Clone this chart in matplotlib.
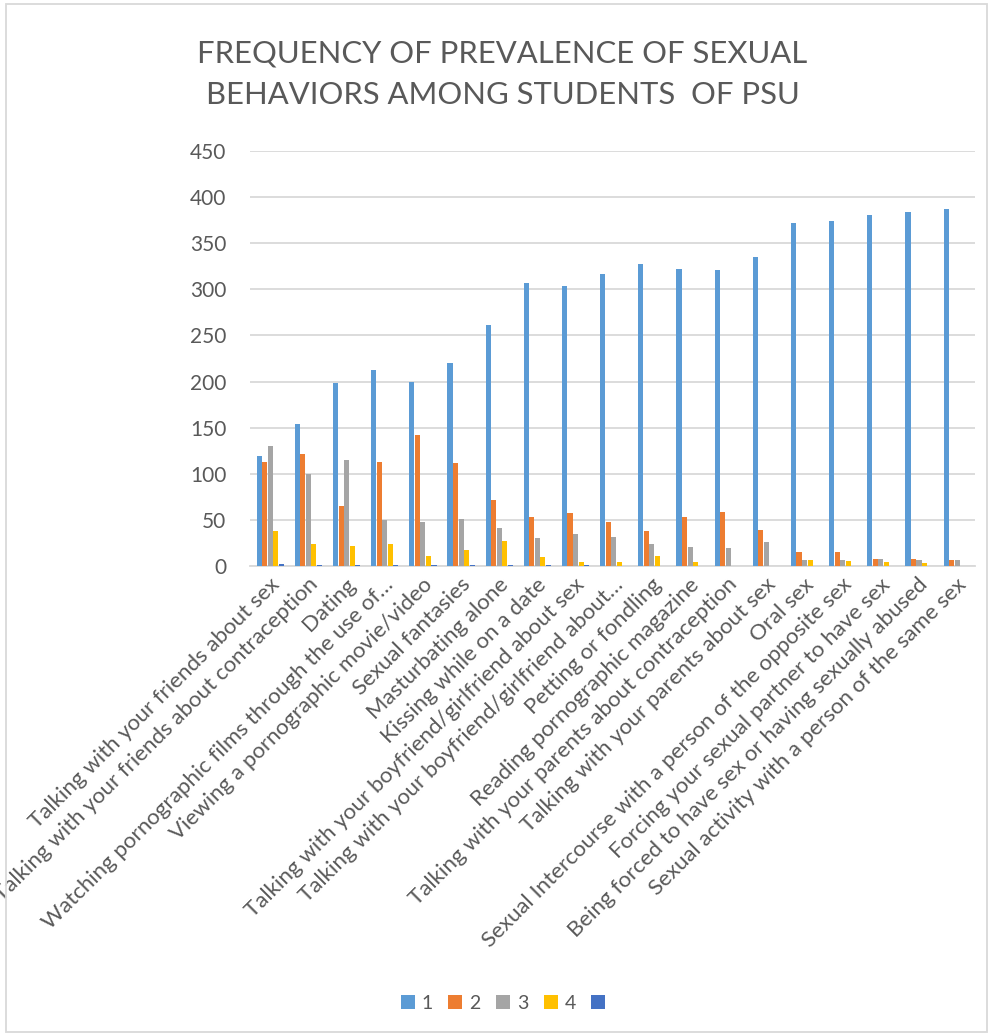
import matplotlib
matplotlib.use("Agg")
import matplotlib.pyplot as plt
import numpy as np
from matplotlib.patches import Patch, Rectangle

plt.rcParams["font.family"] = ["Lato", "DejaVu Sans"]

categories = [
    "Talking with your friends about sex",
    "Talking with your friends about contraception",
    "Dating",
    "Watching pornographic films through the use of…",
    "Viewing a pornographic movie/video",
    "Sexual fantasies",
    "Masturbating alone",
    "Kissing while on a date",
    "Talking with your boyfriend/girlfriend about sex",
    "Talking with your boyfriend/girlfriend about…",
    "Petting or fondling",
    "Reading pornographic magazine",
    "Talking with your parents about contraception",
    "Talking with your parents about sex",
    "Oral sex",
    "Sexual Intercourse with a person of the opposite sex",
    "Forcing your sexual partner to have sex",
    "Being forced to have sex or having sexually abused",
    "Sexual activity with a person of the same sex",
]
series_1 = [119, 154, 198, 212, 199, 220, 261, 307, 304, 317, 327, 322, 321, 335, 372, 374, 381, 384, 387]
series_2 = [113, 121, 65, 113, 142, 112, 71, 53, 57, 48, 38, 53, 58, 39, 15, 15, 8, 8, 6]
series_3 = [130, 100, 115, 50, 48, 51, 41, 30, 35, 31, 24, 21, 20, 26, 7, 7, 8, 6, 7]
series_4 = [38, 24, 22, 24, 11, 17, 27, 10, 4, 4, 11, 4, 0, 0, 7, 5, 4, 3, 0]
series_5 = [2, 1, 1, 1, 1, 1, 1, 1, 1, 0, 0, 0, 0, 0, 0, 0, 0, 0, 0]
series_names = ["1", "2", "3", "4", ""]
colors = ["#5B9BD5", "#ED7D31", "#A5A5A5", "#FFC000", "#4472C4"]

text_color = "#595959"
grid_color = "#D9D9D9"

fig = plt.figure(figsize=(9.91, 10.36), dpi=100)
ax = fig.add_axes([0.2523, 0.4537, 0.7317, 0.4006])

x = np.arange(len(categories))
width = 0.145
all_series = [series_1, series_2, series_3, series_4, series_5]
for i, (vals, col) in enumerate(zip(all_series, colors)):
    ax.bar(x + (i - 2) * width + 0.03, vals, width=width * 0.92, color=col,
           edgecolor="none", zorder=3)

ax.set_xlim(-0.5, len(categories) - 0.5)
ax.set_ylim(0, 450)
ax.set_yticks(np.arange(0, 451, 50))
ax.yaxis.grid(True, color=grid_color, linewidth=1.3, zorder=0)
ax.set_axisbelow(True)
for side in ["top", "right", "left"]:
    ax.spines[side].set_visible(False)
ax.spines["bottom"].set_color(grid_color)
ax.spines["bottom"].set_linewidth(1.3)
ax.tick_params(axis="both", length=0, colors=text_color, labelsize=15)
ax.tick_params(axis="y", pad=17)

ax.set_xticks(x)
ax.set_xticklabels(categories, rotation=45, ha="right", va="top",
                   rotation_mode="anchor", fontsize=16, color=text_color)
ax.tick_params(axis="x", pad=6)

fig.text(0.507, 0.928, "FREQUENCY OF PREVALENCE OF SEXUAL\nBEHAVIORS AMONG STUDENTS  OF PSU",
         ha="center", va="center", fontsize=22.3, color=text_color, linespacing=1.58)

handles = [Patch(facecolor=c, edgecolor="none") for c in colors]
fig.legend(handles, series_names, loc="center", bbox_to_anchor=(0.511, 0.0314),
           ncol=5, frameon=False, fontsize=14, labelcolor=text_color,
           handlelength=0.72, handleheight=0.72, handletextpad=0.35, columnspacing=0.8)

fig.patches.append(Rectangle((0.006, 0.004), 0.99, 0.992, transform=fig.transFigure,
                             fill=False, edgecolor=grid_color, linewidth=1.3))

fig.savefig("out.png", dpi=100, facecolor="white")
